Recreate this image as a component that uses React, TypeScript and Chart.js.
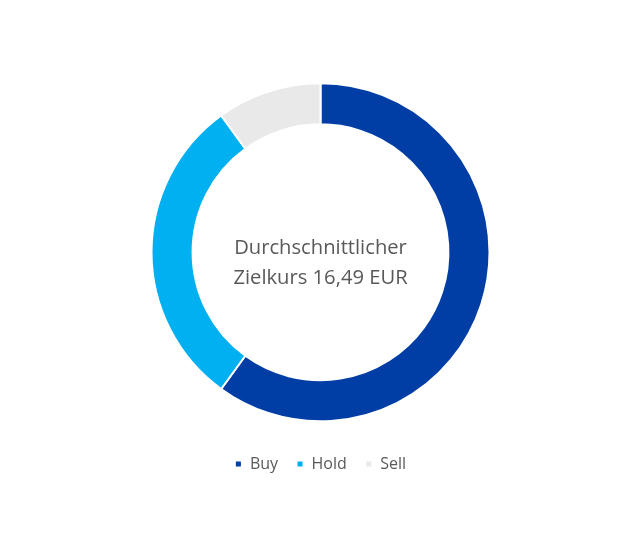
import { useEffect, useRef } from "react"
import { Chart, registerables } from "chart.js"

Chart.register(...registerables)

// Datos del gráfico
const labels = ["Buy", "Hold", "Sell"]
const ratings = [6, 3, 1]
const colors = ["#003DA5", "#00B0F0", "#E9E9E9"]
const centerLines = ["Durchschnittlicher", "Zielkurs 16,49 EUR"]

const textColor = "#595959"
const fontFamily = '"Open Sans", "Noto Sans", sans-serif'

// Texto en el centro del anillo
const centerTextPlugin = {
  id: "centerText",
  afterDraw(chart: Chart) {
    const { ctx, chartArea } = chart
    const cx = (chartArea.left + chartArea.right) / 2
    const cy = (chartArea.top + chartArea.bottom) / 2
    ctx.save()
    ctx.font = `20.2px ${fontFamily}`
    ctx.fillStyle = textColor
    ctx.textAlign = "center"
    ctx.textBaseline = "middle"
    ctx.fillText(centerLines[0], cx, cy - 4)
    ctx.fillText(centerLines[1], cx, cy + 25.5)
    ctx.restore()
  },
}

export default function App() {
  const chartRef = useRef<HTMLCanvasElement>(null)
  const chartInstance = useRef<Chart | null>(null)

  useEffect(() => {
    if (!chartRef.current) return
    if (chartInstance.current) {
      chartInstance.current.destroy()
    }
    const ctx = chartRef.current.getContext("2d")
    if (!ctx) return

    chartInstance.current = new Chart(ctx, {
      type: "doughnut",
      data: {
        labels,
        datasets: [
          {
            data: ratings,
            backgroundColor: colors,
            borderColor: "#FFFFFF",
            borderWidth: 2,
          },
        ],
      },
      options: {
        animation: false,
        responsive: true,
        maintainAspectRatio: false,
        radius: 169,
        cutout: "75.7%",
        layout: {
          padding: { top: 59, bottom: 65, left: 0, right: 0 },
        },
        plugins: {
          legend: {
            position: "bottom",
            labels: {
              color: textColor,
              boxWidth: 7,
              boxHeight: 7,
              padding: 18.5,
              font: { family: fontFamily, size: 16 },
            },
          },
          tooltip: { enabled: false },
        },
      },
      plugins: [centerTextPlugin],
    })

    return () => {
      if (chartInstance.current) {
        chartInstance.current.destroy()
        chartInstance.current = null
      }
    }
  }, [])

  return (
    <div style={{ position: "relative", width: 625, height: 539 }}>
      <canvas ref={chartRef} />
    </div>
  )
}
